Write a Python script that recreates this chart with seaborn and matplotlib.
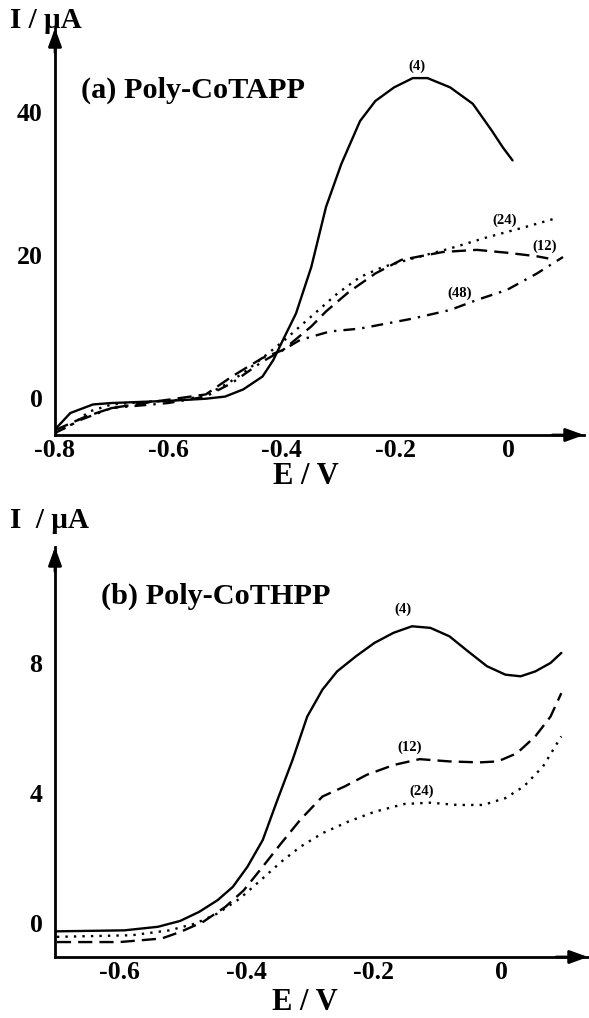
# Two stacked voltammograms (Poly-CoTAPP / Poly-CoTHPP) drawn with seaborn lineplot
import numpy as np
import matplotlib
matplotlib.use("Agg")
import matplotlib.pyplot as plt
import seaborn as sns

W, H = 589, 1018

# ---- panel (a) Poly-CoTAPP : E / V and I / uA ----
a4_E = [-0.80, -0.773, -0.733, -0.70, -0.60, -0.534, -0.50, -0.468, -0.434, -0.415, -0.398,
        -0.375, -0.348, -0.322, -0.295, -0.262, -0.235, -0.202, -0.169, -0.143, -0.103,
        -0.063, -0.030, -0.010, 0.007]
a4_I = [-4.4, -2.1, -0.9, -0.7, -0.4, -0.1, 0.2, 1.2, 3.0, 5.3, 8.1,
        11.8, 18.3, 26.7, 32.7, 38.7, 41.5, 43.4, 44.7, 44.7, 43.4,
        41.1, 37.4, 35.0, 33.2]

a12_E = [-0.80, -0.746, -0.70, -0.633, -0.534, -0.488, -0.434, -0.398, -0.348, -0.322,
         -0.282, -0.235, -0.189, -0.116, -0.056, -0.003, 0.050, 0.070]
a12_I = [-4.5, -2.6, -1.4, -0.6, 0.5, 3.0, 5.6, 6.7, 10.0, 12.1,
         14.8, 17.4, 19.3, 20.4, 20.7, 20.3, 19.8, 19.5]

a24_E = [-0.80, -0.766, -0.74, -0.70, -0.633, -0.567, -0.527, -0.494, -0.461, -0.434,
         -0.395, -0.368, -0.335, -0.302, -0.262, -0.222, -0.169, -0.103, -0.036, 0.030, 0.083]
a24_I = [-4.9, -3.5, -1.9, -0.9, -0.5, -0.2, 0.7, 2.1, 3.9, 5.6,
         8.1, 10.0, 12.3, 14.6, 16.9, 18.3, 19.5, 20.9, 22.5, 23.9, 25.1]

a48_E = [-0.80, -0.753, -0.70, -0.60, -0.534, -0.488, -0.434, -0.398, -0.368, -0.315,
         -0.262, -0.169, -0.103, -0.056, -0.003, 0.050, 0.096]
a48_I = [-4.9, -3.0, -1.4, -0.7, 0.2, 2.1, 5.1, 6.7, 8.1, 9.3,
         9.7, 11.1, 12.3, 13.7, 15.1, 17.4, 19.7]

# ---- panel (b) Poly-CoTHPP ----
b4_E = [-0.699, -0.593, -0.54, -0.505, -0.475, -0.446, -0.422, -0.399, -0.375, -0.352,
        -0.328, -0.305, -0.281, -0.258, -0.228, -0.199, -0.169, -0.14, -0.111, -0.081,
        -0.052, -0.022, 0.007, 0.031, 0.054, 0.078, 0.095]
b4_I = [-0.26, -0.23, -0.12, 0.06, 0.34, 0.70, 1.11, 1.73, 2.55, 3.78,
        5.02, 6.35, 7.18, 7.74, 8.21, 8.62, 8.93, 9.13, 9.08, 8.82,
        8.36, 7.90, 7.64, 7.59, 7.74, 8.0, 8.31]

b12_E = [-0.699, -0.60, -0.534, -0.505, -0.469, -0.434, -0.405, -0.375, -0.346, -0.316,
         -0.281, -0.246, -0.211, -0.169, -0.128, -0.081, -0.034, -0.005, 0.025, 0.054,
         0.078, 0.095]
b12_I = [-0.59, -0.59, -0.48, -0.28, 0.03, 0.49, 1.0, 1.73, 2.45, 3.17,
         3.89, 4.2, 4.56, 4.86, 5.04, 4.97, 4.94, 4.97, 5.22, 5.74,
         6.35, 7.07]

b24_E = [-0.699, -0.581, -0.522, -0.481, -0.446, -0.411, -0.375, -0.346, -0.316, -0.281,
         -0.24, -0.199, -0.152, -0.111, -0.069, -0.028, 0.007, 0.036, 0.066, 0.095]
b24_I = [-0.43, -0.38, -0.23, -0.02, 0.29, 0.75, 1.37, 1.88, 2.34, 2.76,
         3.12, 3.42, 3.66, 3.70, 3.63, 3.63, 3.84, 4.2, 4.81, 5.74]

# curve labels: text, E, I
a_labels = [("(4)", -0.161, 46.3), ("(24)", -0.007, 24.9), ("(12)", 0.063, 21.2), ("(48)", -0.086, 14.7)]
b_labels = [("(4)", -0.155, 9.65), ("(12)", -0.143, 5.4), ("(24)", -0.125, 4.05)]

SOLID = "-"
DASHED = (0, (6, 3))
DOTTED = (0, (1, 2.6))
DASHDOT = (0, (5, 3, 1, 3))

sns.set_style("white")
plt.rcParams["font.family"] = ["Liberation Serif", "DejaVu Serif"]
plt.rcParams["font.weight"] = "bold"
for k in ["text.color", "axes.labelcolor", "xtick.color", "ytick.color"]:
    plt.rcParams[k] = "black"


def px(x, y):
    return x / W, 1 - y / H


def rect(l, t, r, b):
    return [l / W, 1 - b / H, (r - l) / W, (b - t) / H]


def style_axes(ax):
    for s in ["top", "right"]:
        ax.spines[s].set_visible(False)
    for s in ["left", "bottom"]:
        ax.spines[s].set_linewidth(2)
        ax.spines[s].set_color("black")
    arrow = dict(arrowstyle="-|>,head_length=1.1,head_width=0.4", color="black", lw=2,
                 shrinkA=0, shrinkB=0)
    ax.annotate("", xy=(1, 0), xytext=(0.94, 0), xycoords="axes fraction", arrowprops=arrow)
    ax.annotate("", xy=(0, 1), xytext=(0, 0.94), xycoords="axes fraction", arrowprops=arrow)
    ax.tick_params(direction="in", length=7, width=2, labelsize=18.5, colors="black")
    for lab in ax.get_xticklabels() + ax.get_yticklabels():
        lab.set_fontweight("bold")


fig = plt.figure(figsize=(W / 100, H / 100), dpi=100)

# ---------- (a) ----------
ax = fig.add_axes(rect(55, 28, 584, 435))
for E, I, ls in [(a4_E, a4_I, SOLID), (a12_E, a12_I, DASHED),
                 (a24_E, a24_I, DOTTED), (a48_E, a48_I, DASHDOT)]:
    sns.lineplot(x=E, y=I, ax=ax, sort=False, estimator=None, color="black",
                 lw=1.7, linestyle=ls)
ax.set_xlim(-0.8, 0.133)
ax.set_ylim(-5.17, 51.7)
ax.set_xticks([-0.8, -0.6, -0.4, -0.2, 0])
ax.set_xticklabels(["-0.8", "-0.6", "-0.4", "-0.2", "0"])
ax.set_yticks([0, 10, 20, 30, 40])
ax.set_yticklabels(["0", "", "20", "", "40"])
ax.tick_params(axis="x", pad=3)
ax.tick_params(axis="y", pad=9)
style_axes(ax)
for t, e, i in a_labels:
    ax.text(e, i, t, fontsize=10.5, fontweight="bold", ha="center", va="center")

fig.text(*px(10, 20), "I / µA", fontsize=21, fontweight="bold", va="center", ha="left")
fig.text(*px(81, 90), "(a) Poly-CoTAPP", fontsize=21.8, fontweight="bold", va="center", ha="left")
fig.text(*px(306, 476), "E / V", fontsize=22, fontweight="bold", va="center", ha="center")

# ---------- (b) ----------
ax = fig.add_axes(rect(55, 547, 588, 957))
for E, I, ls in [(b4_E, b4_I, SOLID), (b12_E, b12_I, DASHED), (b24_E, b24_I, DOTTED)]:
    sns.lineplot(x=E, y=I, ax=ax, sort=False, estimator=None, color="black",
                 lw=1.7, linestyle=ls)
ax.set_xlim(-0.702, 0.137)
ax.set_ylim(-1.05, 11.57)
ax.set_xticks([-0.6, -0.5, -0.4, -0.3, -0.2, -0.1, 0, 0.1])
ax.set_xticklabels(["-0.6", "", "-0.4", "", "-0.2", "", "0", ""])
ax.set_yticks([0, 2, 4, 6, 8, 10])
ax.set_yticklabels(["0", "", "4", "", "8", ""])
ax.tick_params(axis="x", pad=3)
ax.tick_params(axis="y", pad=9)
style_axes(ax)
for t, e, i in b_labels:
    ax.text(e, i, t, fontsize=10.5, fontweight="bold", ha="center", va="center")

fig.text(*px(10, 520), "I  / µA", fontsize=21, fontweight="bold", va="center", ha="left")
fig.text(*px(101, 596), "(b) Poly-CoTHPP", fontsize=21.8, fontweight="bold", va="center", ha="left")
fig.text(*px(305, 1002), "E / V", fontsize=22, fontweight="bold", va="center", ha="center")

fig.savefig("out.png", dpi=100)
